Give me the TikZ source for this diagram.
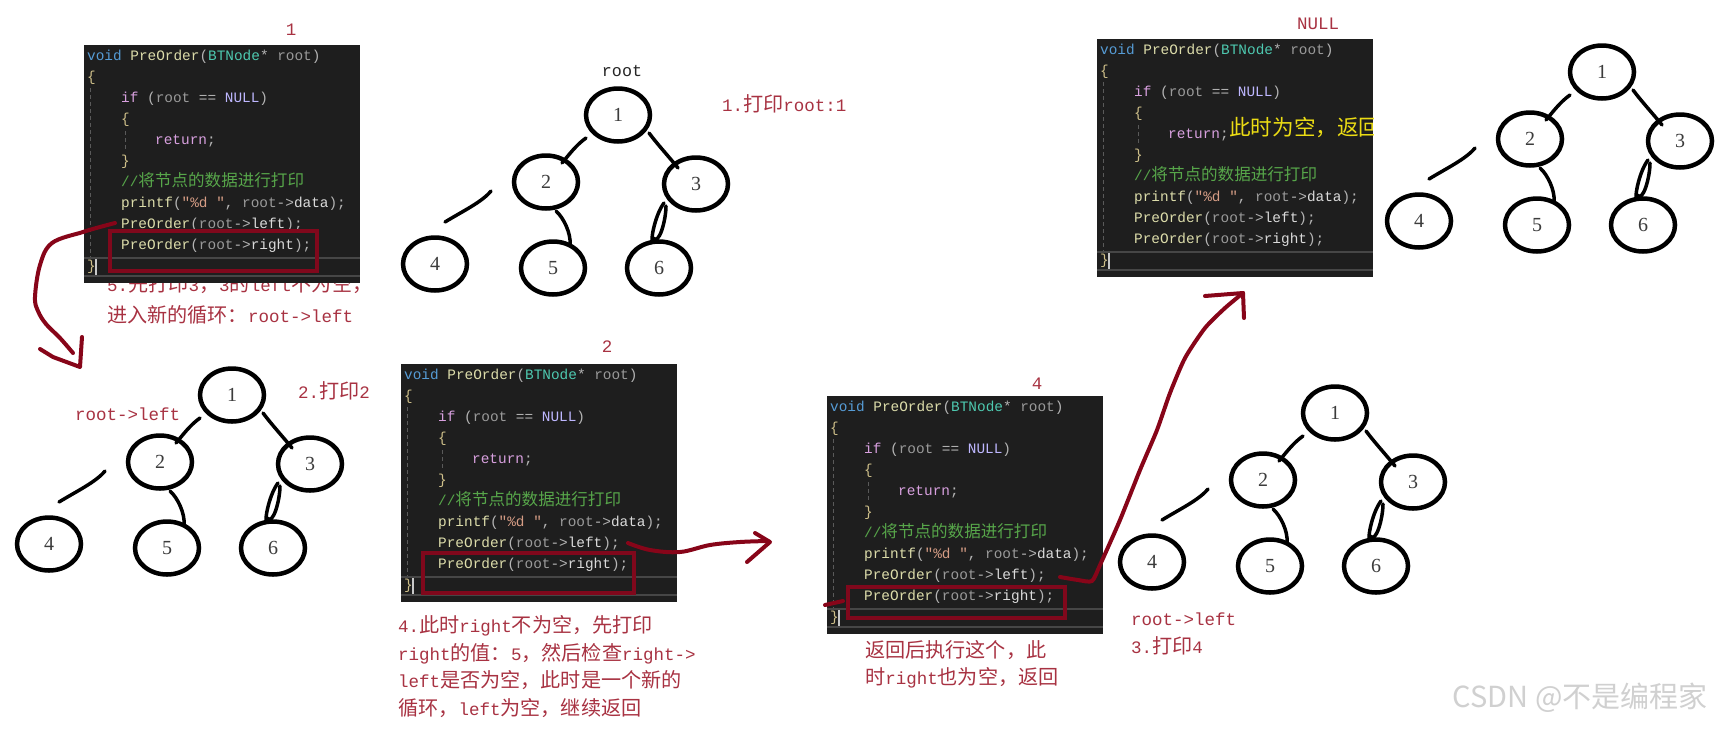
\documentclass[tikz,border=0pt]{standalone}
\usepackage{fontspec}
\setmonofont{Liberation Mono}
\newfontfamily\zhfont[Scale=1.15]{Noto Sans CJK SC}
\newfontfamily\numfont{Liberation Serif}
\newfontfamily\wmfont{Noto Sans CJK SC}
\usetikzlibrary{shapes.geometric,calc}
\newcommand\zh[1]{{\zhfont #1}}

\definecolor{codebgc}{HTML}{1E1E1E}
\definecolor{guidec}{HTML}{5A5A5A}
\definecolor{curlinec}{HTML}{464646}
\definecolor{cursorc}{HTML}{C8C8C8}
\definecolor{kw}{HTML}{569CD6}
\definecolor{fn}{HTML}{DCDCAA}
\definecolor{ty}{HTML}{4EC9B0}
\definecolor{pm}{HTML}{9A9A9A}
\definecolor{pu}{HTML}{B4B4B4}
\definecolor{ctl}{HTML}{D8A0DF}
\definecolor{mac}{HTML}{BEB7FF}
\definecolor{cm}{HTML}{57A64A}
\definecolor{st}{HTML}{D69D85}
\definecolor{mb}{HTML}{DADADA}
\definecolor{br}{HTML}{CFC08A}
\definecolor{annred}{RGB}{168,50,66}
\definecolor{penred}{RGB}{135,5,25}
\definecolor{boxred}{RGB}{128,8,28}
\definecolor{numc}{HTML}{3C3C3C}
\definecolor{wmc}{HTML}{D0D0D0}
\definecolor{yel}{RGB}{235,220,20}

\tikzset{
  codebg/.style={fill=codebgc, draw=none, minimum width=276pt, minimum height=238pt, inner sep=0pt, anchor=north west},
  codetxt/.style={font=\ttfamily\fontsize{14.4}{17}\selectfont, inner sep=0pt, anchor=base west},
  guide/.style={draw=guidec, line width=1pt, dash pattern=on 4pt off 3pt},
  curline/.style={draw=curlinec, line width=2pt},
  cursorbar/.style={draw=cursorc, line width=1.5pt},
  tn/.style={ellipse, draw=black, line width=4.5pt, minimum width=64pt, minimum height=53pt, inner sep=0pt, font=\numfont\fontsize{20}{20}\selectfont, text=numc},
  tedge/.style={line width=3.5pt, line cap=round, draw=black},
  redpen/.style={line width=4pt, draw=penred, line cap=round, line join=round},
  redbox/.style={line width=4pt, draw=boxred},
  ann/.style={text=annred, font=\ttfamily\fontsize{17.5}{21}\selectfont, inner sep=0pt, anchor=base west},
  annc/.style={text=annred, font=\ttfamily\fontsize{17.5}{21}\selectfont, inner sep=0pt},
}

\newcommand\cl[4]{\node[codetxt] (#1) at ({3+8.5*#2},{15+21*#3}) {#4};}

\newcommand\codebox[3]{%
\begin{scope}[shift={(#2,#3)}]
  \node[codebg] (#1) at (0,0) {};
  \draw[guide] (6,43) -- (6,212);
  \draw[guide] (41,86) -- (41,104);
  \draw[curline] (0,213) -- (276,213);
  \draw[curline] (0,231) -- (276,231);
  \draw[cursorbar] (12,214) -- (12,230);
  \cl{#1a}{0}{0}{\textcolor{kw}{void} \textcolor{fn}{PreOrder}\textcolor{pu}{(}\textcolor{ty}{BTNode}\textcolor{pu}{*} \textcolor{pm}{root}\textcolor{pu}{)}}
  \cl{#1b}{0}{1}{\textcolor{br}{\{}}
  \cl{#1c}{4}{2}{\textcolor{ctl}{if} \textcolor{pu}{(}\textcolor{pm}{root} \textcolor{pu}{==} \textcolor{mac}{NULL}\textcolor{pu}{)}}
  \cl{#1d}{4}{3}{\textcolor{br}{\{}}
  \cl{#1e}{8}{4}{\textcolor{ctl}{return}\textcolor{pu}{;}}
  \cl{#1f}{4}{5}{\textcolor{br}{\}}}
  \cl{#1g}{4}{6}{\textcolor{cm}{//\zh{将节点的数据进行打印}}}
  \cl{#1h}{4}{7}{\textcolor{fn}{printf}\textcolor{pu}{(}\textcolor{st}{"\%d "}\textcolor{pu}{,} \textcolor{pm}{root}\textcolor{pu}{->}\textcolor{mb}{data}\textcolor{pu}{);}}
  \cl{#1i}{4}{8}{\textcolor{fn}{PreOrder}\textcolor{pu}{(}\textcolor{pm}{root}\textcolor{pu}{->}\textcolor{mb}{left}\textcolor{pu}{);}}
  \cl{#1j}{4}{9}{\textcolor{fn}{PreOrder}\textcolor{pu}{(}\textcolor{pm}{root}\textcolor{pu}{->}\textcolor{mb}{right}\textcolor{pu}{);}}
  \cl{#1k}{0}{10}{\textcolor{br}{\}}}
\end{scope}}

\newcommand\bintree[3]{%
  \node[tn] (#1n1) at (#2,#3) {1};
  \node[tn] (#1n2) at ({#2-72},{#3+67}) {2};
  \node[tn] (#1n3) at ({#2+78},{#3+69}) {3};
  \node[tn] (#1n4) at ({#2-183},{#3+149}) {4};
  \node[tn] (#1n5) at ({#2-65},{#3+153}) {5};
  \node[tn] (#1n6) at ({#2+41},{#3+153}) {6};
  \draw[tedge] ($(#1n1)+(-32,23)$) .. controls ($(#1n1)+(-42,30)$) and ($(#1n2)+(22,-26)$) .. ($(#1n2)+(16,-19)$);
  \draw[tedge] ($(#1n1)+(31,18)$) .. controls ($(#1n1)+(40,30)$) and ($(#1n3)+(-26,-26)$) .. ($(#1n3)+(-18,-16)$);
  \draw[tedge] ($(#1n2)+(-55,9)$) .. controls ($(#1n2)+(-64,20)$) and ($(#1n4)+(28,-53)$) .. ($(#1n4)+(10,-42)$);
  \draw[tedge] ($(#1n2)+(10,29)$) .. controls ($(#1n2)+(18,36)$) and ($(#1n5)+(18,-34)$) .. ($(#1n5)+(17,-24)$);
  \draw[tedge] ($(#1n3)+(-32,19)$) .. controls ($(#1n3)+(-42,32)$) and ($(#1n6)+(-10,-20)$) .. ($(#1n6)+(-5,-28)$);
  \draw[tedge] ($(#1n3)+(-30,22)$) .. controls ($(#1n3)+(-30,36)$) and ($(#1n6)+(0,-22)$) .. ($(#1n6)+(-6,-30)$);
}

\begin{document}
\begin{tikzpicture}[x=1pt, y=-1pt]
\useasboundingbox (0,0) rectangle (1716,729);
\fill[white] (0,0) rectangle (1716,729);

% ---- annotation partly hidden under box 1
\node[ann] (t5a) at (107,291) {5.\zh{先打印}3\zh{，}3\zh{的}left\zh{不为空，}};
\node[ann] (t5b) at (107,322) {\zh{进入新的循环：}root->left};

% ---- code boxes
\codebox{boxA}{84}{45}
\codebox{boxB}{401}{364}
\codebox{boxC}{827}{396}
\codebox{boxD}{1097}{39}

\draw[redbox] (110,231) rectangle (317,271);
\draw[redbox] (423,553) rectangle (634,593);
\draw[redbox] (848,587) rectangle (1065,618);

\begin{scope}
  \clip (1097,39) rectangle (1373,277);
  \node[anchor=west, inner sep=0pt, text=yel, font=\zhfont\fontsize{18.8}{20}\selectfont] (yt) at (1229,128) {此时为空，返回};
\end{scope}

% ---- labels
\node[annc] (lab1) at (291,30) {1};
\node[annc] (lab2) at (607,347) {2};
\node[annc] (lab4) at (1037,384) {4};
\node[annc] (labnull) at (1318,24) {NULL};
\node[inner sep=0pt, text=black!85, font=\ttfamily\fontsize{16.7}{20}\selectfont] (rootlab) at (622,71) {root};

\node[ann] (s1) at (722,111) {1.\zh{打印}root:1};
\node[ann] (s2) at (298,398) {2.\zh{打印}2};
\node[ann] (rl2) at (75,420) {root->left};

\node[ann] (s4a) at (398,632) {4.\zh{此时}right\zh{不为空，先打印}};
\node[ann] (s4b) at (398,660) {right\zh{的值：}5\zh{，然后检查}right->};
\node[ann] (s4c) at (398,687) {left\zh{是否为空，此时是一个新的}};
\node[ann] (s4d) at (398,715) {\zh{循环，}left\zh{为空，继续返回}};

\node[ann] (s3a) at (865,657) {\zh{返回后执行这个，此}};
\node[ann] (s3b) at (865,684) {\zh{时}right\zh{也为空，返回}};

\node[ann] (rl3) at (1131,625) {root->left};
\node[ann] (s3) at (1131,653) {3.\zh{打印}4};

% ---- trees
\bintree{ta}{618}{115}
\bintree{tb}{232}{395}
\bintree{tc}{1335}{413}
\bintree{td}{1602}{72}

% ---- red hand-drawn arrows
\coordinate (a1s) at (115,223);
\coordinate (a1t) at (80,367);
\draw[redpen] plot[smooth, tension=0.6] coordinates {(a1s) (100,227) (83,232) (52,243) (40,265) (35,297) (38,311) (46,324) (60,338) (73,353)};
\draw[redpen] (40,349) -- (53,357) -- (a1t) -- (82,337);

\coordinate (a2s) at (628,543);
\coordinate (a2t) at (770,542);
\draw[redpen] plot[smooth, tension=0.6] coordinates {(a2s) (650,550) (680,552) (710,545) (740,542) (768,541)};
\draw[redpen] (755,533) -- (a2t) -- (747,562);

\coordinate (a3s) at (1060,577);
\coordinate (a3t) at (1243,293);
\draw[redpen] plot[smooth, tension=0.4] coordinates {(a3s) (1078,580) (1092,581) (1100,565) (1120,520) (1140,470) (1157,430) (1170,393) (1185,358) (1205,328) (1225,308) (a3t)};
\draw[redpen] (1205,296) -- (a3t) -- (1244,318);
\draw[redpen] (825,605) -- (843,601);

% ---- watermark
\node[anchor=east, inner sep=0pt, text=wmc, font=\wmfont\fontsize{29}{30}\selectfont] (wm) at (1708,698) {CSDN @不是编程家};
\end{tikzpicture}
\end{document}
